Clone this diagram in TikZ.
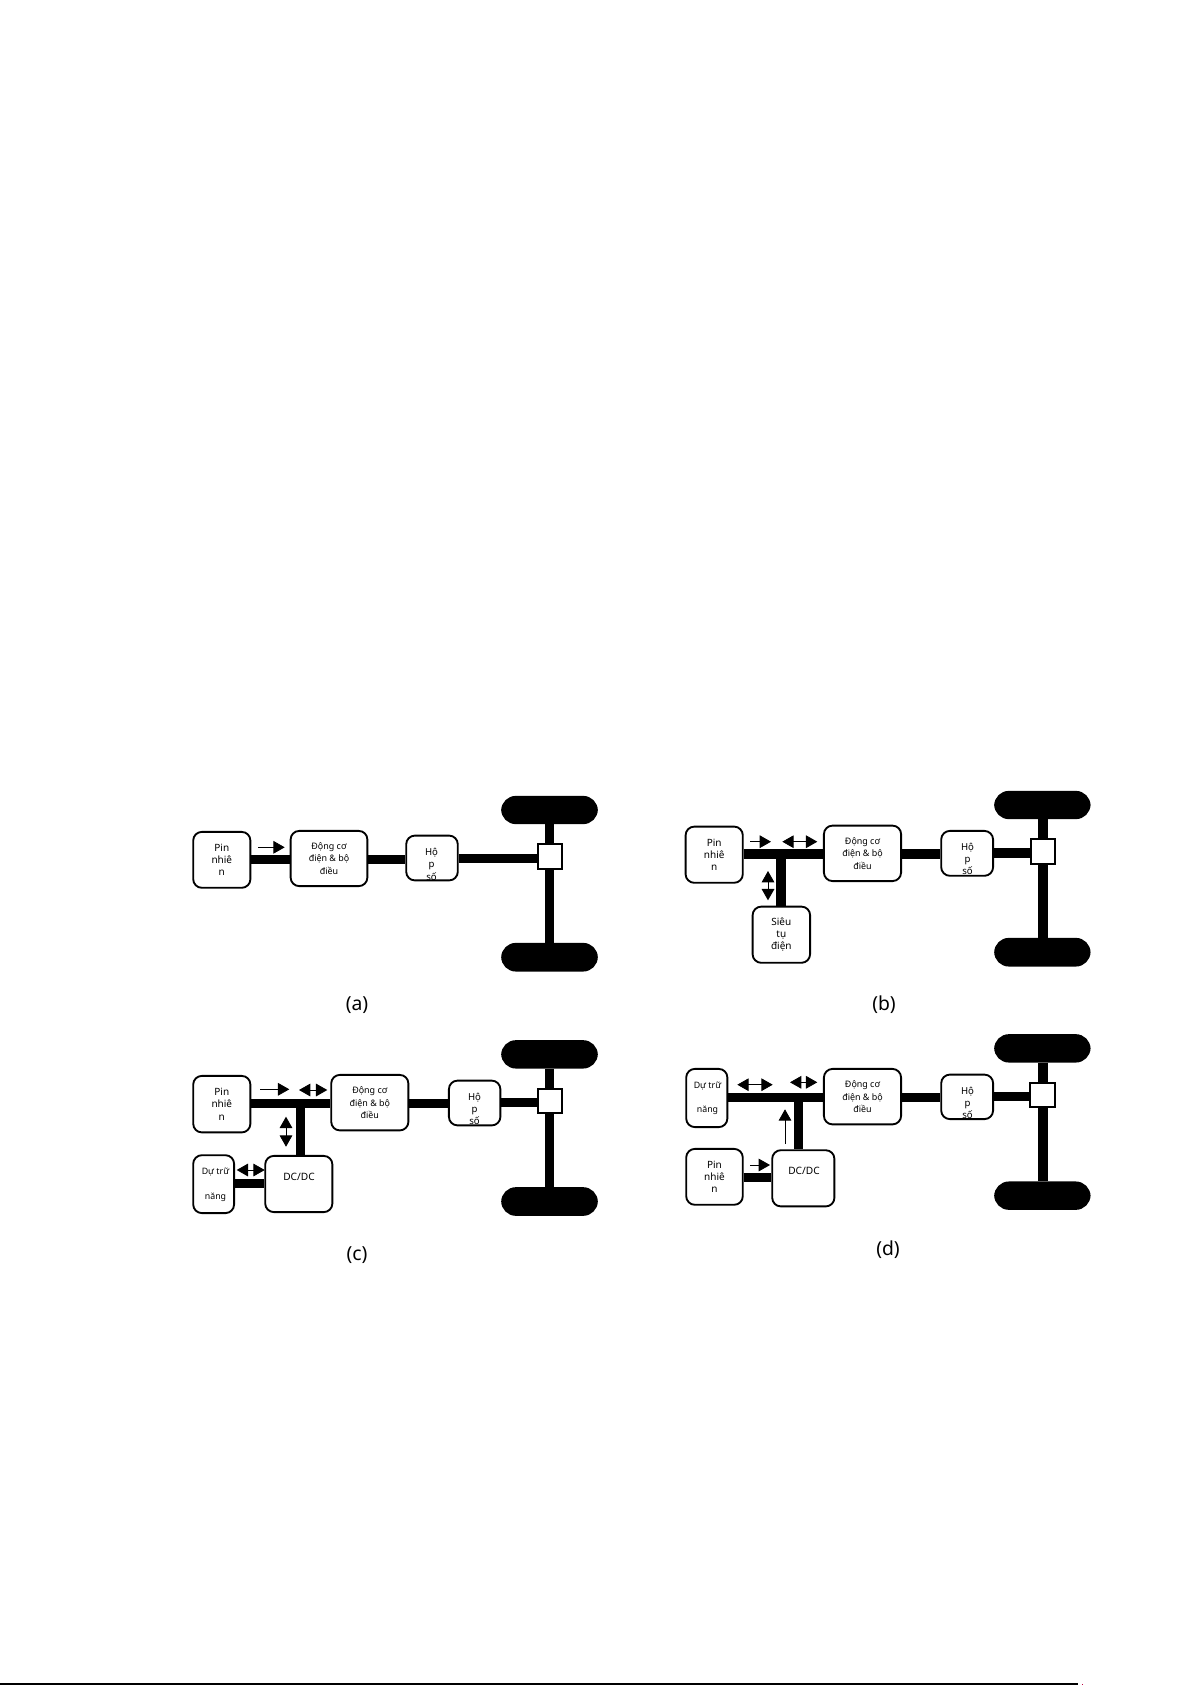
\documentclass[tikz,border=0pt]{standalone}
\usepackage{fontspec}
\setmainfont{Noto Sans}
\usetikzlibrary{arrows.meta}
\tikzset{
  box/.style={draw=black,line width=1.4pt,fill=white,rounded corners=6.5pt,inner sep=0pt,align=center,font=\fontsize{7.5}{9.2}\selectfont},
  dongbox/.style={box,font=\fontsize{6.7}{9.2}\selectfont},
  sq/.style={draw=black,line width=1.4pt,fill=white,inner sep=0pt},
  wheel/.style={draw=black,line width=1.1pt,fill=black,rounded corners=10.5pt,inner sep=0pt},
  txt/.style={inner sep=0pt,align=center,font=\fontsize{7.2}{9.2}\selectfont},
  dttxt/.style={inner sep=0pt,align=center,font=\fontsize{6.6}{9.2}\selectfont},
  dctxt/.style={inner sep=0pt,font=\fontsize{7.6}{10}\selectfont},
  captxt/.style={inner sep=0pt,font=\fontsize{14.5}{17}\selectfont},
  bus/.style={line width=6.9pt,black},
  axle/.style={line width=7pt,black},
  flow/.style={line width=0.6pt,black,-{Triangle[length=8.5pt,width=9.5pt]}},
  flowb/.style={line width=0.6pt,black,{Triangle[length=8.5pt,width=9.5pt]}-{Triangle[length=8.5pt,width=9.5pt]}},
}
\newcommand{\bx}[7][box]{\node[#1,minimum width={(#4-#2-1.8)*0.75pt},minimum height={(#5-#3-1.8)*0.75pt}] (#7) at ({(#2+#4)/2},{(#3+#5)/2}) {#6};}
\newcommand{\flw}[4][flow]{\coordinate (#2s) at (#3); \coordinate (#2e) at (#4); \draw[#1] (#2s) -- (#2e);}
\begin{document}
\begin{tikzpicture}[x=0.75pt,y=-0.75pt]
\useasboundingbox (0,0) rectangle (1192,1685);
% ---------- panel a
\bx{192.3}{831}{251.3}{888.7}{Pin\\nhiê\\n}{pina}
\bx[dongbox]{289.7}{830}{368.3}{887}{Động cơ\\điện \& bộ\\điều}{dca}
\bx{405.3}{834.7}{458.7}{881.3}{}{hopa}
\node[txt] (hopat) at (431.5,864.3) {Hộ\\p\\số};
\bx[sq]{536.7}{842.7}{563.3}{870.3}{}{sqa}
\bx[wheel]{501}{795.7}{598}{824.3}{}{wta}
\bx[wheel]{501}{942.7}{598}{971.7}{}{wba}
\coordinate (busa) at (0,859.5);
\coordinate (busa2) at (0,858.5);
\coordinate (axa) at (549.5,0);
\draw[bus] (pina.east|-busa) -- (dca.west|-busa);
\draw[bus] (dca.east|-busa) -- (hopa.west|-busa);
\draw[bus] (hopa.east|-busa2) -- (sqa.west|-busa2);
\draw[axle] (axa|-wta.south) -- (axa|-sqa.north);
\draw[axle] (axa|-sqa.south) -- (axa|-wba.north);
\flw{fa}{258,847.3}{284.7,847.3}
\node[captxt] (capa) at (357,1005.5) {(a)};
% ---------- panel b
\bx{684.7}{825.7}{743.7}{883.7}{Pin\\nhiê\\n}{pinb}
\bx[dongbox]{823}{824.7}{902}{882}{Động cơ\\điện \& bộ\\điều}{dcb}
\bx{940.3}{830}{994}{876.7}{}{hopb}
\node[txt] (hopbt) at (967.5,859) {Hộ\\p\\số};
\bx[sq]{1029.7}{837.7}{1056.3}{865}{}{sqb}
\bx[wheel]{994}{790.7}{1090.7}{819.3}{}{wtb}
\bx[wheel]{994}{937.7}{1090.7}{966.7}{}{wbb}
\bx{751.7}{905.7}{811}{963.7}{Siêu\\tụ\\điện}{sieub}
\coordinate (busb) at (0,854);
\coordinate (busb2) at (0,853);
\coordinate (axb) at (1043,0);
\coordinate (brb) at (781,0);
\draw[bus] (pinb.east|-busb) -- (dcb.west|-busb);
\draw[bus] (dcb.east|-busb) -- (hopb.west|-busb);
\draw[bus] (hopb.east|-busb2) -- (sqb.west|-busb2);
\draw[bus] (brb|-busb) -- (brb|-sieub.north);
\draw[axle] (axb|-wtb.south) -- (axb|-sqb.north);
\draw[axle] (axb|-sqb.south) -- (axb|-wbb.north);
\flw{fb1}{750,841.7}{771,841.7}
\flw[flowb]{fb2}{782.3,841.7}{817.3,841.7}
\flw[flowb]{fb3}{768,871}{768,900.3}
\node[captxt] (capb) at (884,1005) {(b)};
% ---------- panel c
\bx{192.3}{1075}{251.3}{1133.3}{Pin\\nhiê\\n}{pinc}
\bx[dongbox]{330.3}{1074}{409.3}{1131.3}{Động cơ\\điện \& bộ\\điều}{dcc}
\bx{448}{1079.7}{501.3}{1126.3}{}{hopc}
\node[txt] (hopct) at (474.5,1109) {Hộ\\p\\số};
\bx[sq]{536.7}{1087.7}{563.3}{1114.3}{}{sqc}
\bx[wheel]{501}{1040}{598}{1068.7}{}{wtc}
\bx[wheel]{501}{1187}{598}{1216}{}{wbc}
\bx{264.3}{1155}{333.3}{1213}{}{ddc}
\node[dctxt] (ddct) at (299,1177) {DC/DC};
\bx{192.3}{1154.3}{235}{1214}{}{dtc}
\node[dttxt] (dtct) at (215.5,1185) {Dự trữ\\[9.2pt]năng};
\coordinate (busc) at (0,1103.5);
\coordinate (busc2) at (0,1102.5);
\coordinate (axc) at (549.5,0);
\coordinate (brc) at (300.8,0);
\coordinate (lnkc) at (0,1183.7);
\draw[bus] (pinc.east|-busc) -- (dcc.west|-busc);
\draw[bus] (dcc.east|-busc) -- (hopc.west|-busc);
\draw[bus] (hopc.east|-busc2) -- (sqc.west|-busc2);
\draw[bus] (brc|-busc) -- (brc|-ddc.north);
\draw[bus] (dtc.east|-lnkc) -- (ddc.west|-lnkc);
\draw[axle] (axc|-wtc.south) -- (axc|-sqc.north);
\draw[axle] (axc|-sqc.south) -- (axc|-wbc.north);
\flw{fc1}{260,1089.3}{289.3,1089.3}
\flw[flowb]{fc2}{299,1090}{327.3,1090}
\flw[flowb]{fc3}{286,1116.7}{286,1146.7}
\flw[flowb]{fc4}{236.7,1170}{264.7,1170}
\node[captxt] (capc) at (357,1255.5) {(c)};
% ---------- panel d
\bx{685.3}{1068}{728.3}{1128}{}{dtd}
\node[dttxt] (dtdt) at (707.5,1098.5) {Dự trữ\\[9.2pt]năng};
\bx[dongbox]{823}{1068}{902}{1125.3}{Động cơ\\điện \& bộ\\điều}{dcd}
\bx{940.3}{1073.7}{994}{1120}{}{hopd}
\node[txt] (hopdt) at (967.5,1103) {Hộ\\p\\số};
\bx[sq]{1028.7}{1081.7}{1056.3}{1108.3}{}{sqd}
\bx[wheel]{994}{1034}{1090.7}{1062.7}{}{wtd}
\bx[wheel]{994}{1181.3}{1090.7}{1210}{}{wbd}
\bx{771.3}{1149.3}{835.3}{1207.3}{}{ddd}
\node[dctxt] (dddt) at (804,1171) {DC/DC};
\bx{685.3}{1148}{743.7}{1205.7}{Pin\\nhiê\\n}{pind}
\coordinate (busd) at (0,1097.3);
\coordinate (busd2) at (0,1096.5);
\coordinate (axd) at (1043,0);
\coordinate (brd) at (798.3,0);
\coordinate (lnkd) at (0,1177.5);
\draw[bus] (dtd.east|-busd) -- (dcd.west|-busd);
\draw[bus] (dcd.east|-busd) -- (hopd.west|-busd);
\draw[bus] (hopd.east|-busd2) -- (sqd.west|-busd2);
\draw[bus] (brd|-busd) -- (brd|-ddd.north);
\draw[bus] (pind.east|-lnkd) -- (ddd.west|-lnkd);
\draw[axle] (axd|-wtd.south) -- (axd|-sqd.north);
\draw[axle] (axd|-sqd.south) -- (axd|-wbd.north);
\flw[flowb]{fd1}{737.3,1084.7}{772.7,1084.7}
\flw[flowb]{fd2}{790,1082.3}{817.3,1082.3}
\flw{fd3}{785,1144}{785,1109.3}
\flw{fd4}{750,1165}{770,1165}
\node[captxt] (capd) at (888,1249.5) {(d)};
% ---------- page rule
\coordinate (rulea) at (0,1684);
\coordinate (ruleb) at (1078,1684);
\draw[black,line width=0.9pt] (rulea) -- (ruleb);
\fill[purple] (1081.5,1683.5) rectangle (1082.5,1685);
\end{tikzpicture}
\end{document}
